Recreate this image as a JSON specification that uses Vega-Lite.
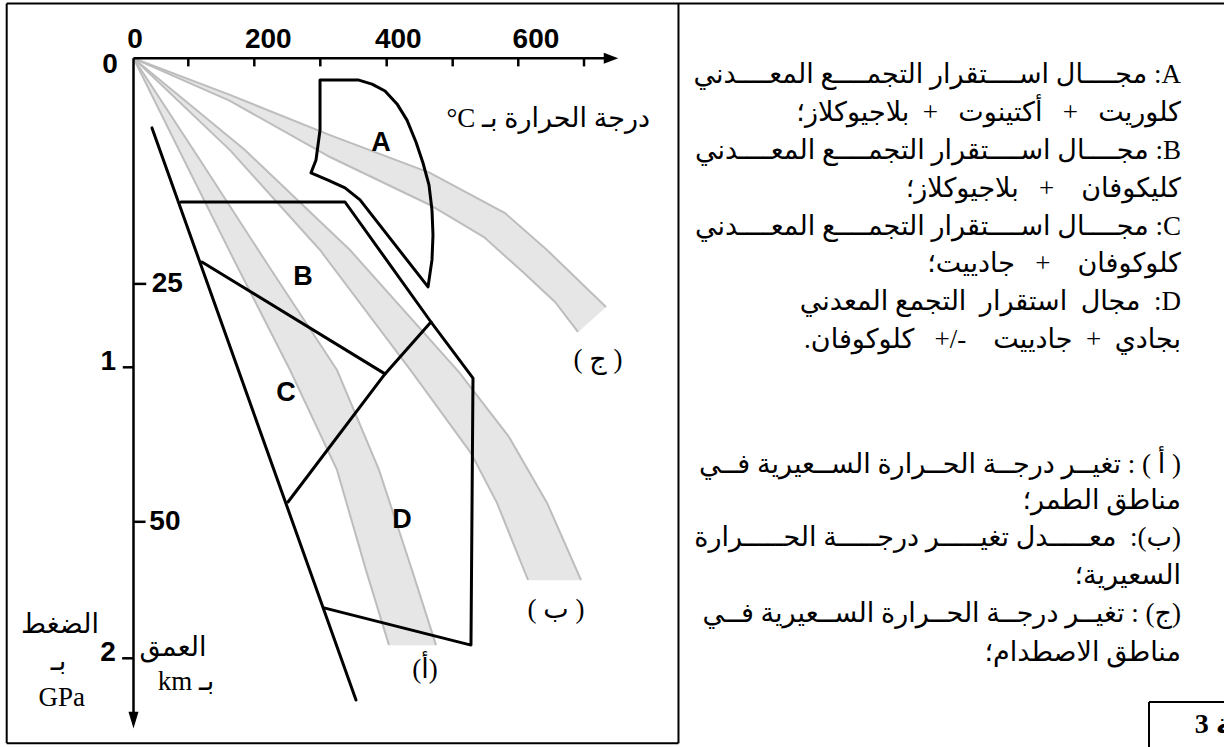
{
  "$schema": "https://vega.github.io/schema/vega-lite/v6.json",
  "width": 1224,
  "height": 747,
  "padding": 0,
  "autosize": {"type": "none"},
  "background": "white",
  "config": {"view": {"stroke": null}},
  "datasets": {
    "bands": [
      {"band": "j", "side": "u", "seq": 0, "t": 0, "p": 0},
      {"band": "j", "side": "u", "seq": 1, "t": 144.0, "p": 0.122},
      {"band": "j", "side": "u", "seq": 2, "t": 293.3, "p": 0.256},
      {"band": "j", "side": "u", "seq": 3, "t": 442.5, "p": 0.382},
      {"band": "j", "side": "u", "seq": 4, "t": 554.5, "p": 0.516},
      {"band": "j", "side": "u", "seq": 5, "t": 617.2, "p": 0.639},
      {"band": "j", "side": "u", "seq": 6, "t": 705.2, "p": 0.829},
      {"band": "j", "side": "l", "seq": 93, "t": 663.4, "p": 0.912},
      {"band": "j", "side": "l", "seq": 94, "t": 629.1, "p": 0.812},
      {"band": "j", "side": "l", "seq": 95, "t": 582.8, "p": 0.716},
      {"band": "j", "side": "l", "seq": 96, "t": 523.1, "p": 0.596},
      {"band": "j", "side": "l", "seq": 97, "t": 442.5, "p": 0.489},
      {"band": "j", "side": "l", "seq": 98, "t": 293.3, "p": 0.329},
      {"band": "j", "side": "l", "seq": 99, "t": 144.0, "p": 0.142},
      {"band": "j", "side": "l", "seq": 100, "t": 0, "p": 0},
      {"band": "b", "side": "u", "seq": 0, "t": 0, "p": 0},
      {"band": "b", "side": "u", "seq": 1, "t": 144.0, "p": 0.306},
      {"band": "b", "side": "u", "seq": 2, "t": 278.4, "p": 0.639},
      {"band": "b", "side": "u", "seq": 3, "t": 415.7, "p": 1.046},
      {"band": "b", "side": "u", "seq": 4, "t": 503.7, "p": 1.316},
      {"band": "b", "side": "u", "seq": 5, "t": 542.5, "p": 1.482},
      {"band": "b", "side": "u", "seq": 6, "t": 588.8, "p": 1.739},
      {"band": "b", "side": "l", "seq": 94, "t": 667.9, "p": 1.739},
      {"band": "b", "side": "l", "seq": 95, "t": 617.2, "p": 1.482},
      {"band": "b", "side": "l", "seq": 96, "t": 560.4, "p": 1.262},
      {"band": "b", "side": "l", "seq": 97, "t": 485.8, "p": 1.046},
      {"band": "b", "side": "l", "seq": 98, "t": 323.1, "p": 0.639},
      {"band": "b", "side": "l", "seq": 99, "t": 166.4, "p": 0.306},
      {"band": "b", "side": "l", "seq": 100, "t": 0, "p": 0},
      {"band": "a", "side": "u", "seq": 0, "t": 0, "p": 0},
      {"band": "a", "side": "u", "seq": 1, "t": 75.4, "p": 0.339},
      {"band": "a", "side": "u", "seq": 2, "t": 151.5, "p": 0.679},
      {"band": "a", "side": "u", "seq": 3, "t": 233.6, "p": 1.039},
      {"band": "a", "side": "u", "seq": 4, "t": 303.7, "p": 1.372},
      {"band": "a", "side": "u", "seq": 5, "t": 347.0, "p": 1.706},
      {"band": "a", "side": "u", "seq": 6, "t": 381.3, "p": 1.956},
      {"band": "a", "side": "l", "seq": 94, "t": 451.5, "p": 1.956},
      {"band": "a", "side": "l", "seq": 95, "t": 415.7, "p": 1.706},
      {"band": "a", "side": "l", "seq": 96, "t": 366.4, "p": 1.372},
      {"band": "a", "side": "l", "seq": 97, "t": 303.7, "p": 1.039},
      {"band": "a", "side": "l", "seq": 98, "t": 200.7, "p": 0.689},
      {"band": "a", "side": "l", "seq": 99, "t": 99.3, "p": 0.339},
      {"band": "a", "side": "l", "seq": 100, "t": 0, "p": 0}
    ],
    "lines": [
      {"id": "L", "seq": 0, "t": 27.6, "p": 0.232},
      {"id": "L", "seq": 1, "t": 332.1, "p": 2.139},
      {"id": "B", "seq": 0, "t": 70.9, "p": 0.479},
      {"id": "B", "seq": 1, "t": 315.7, "p": 0.479},
      {"id": "B", "seq": 2, "t": 444.0, "p": 0.879},
      {"id": "B", "seq": 3, "t": 506.7, "p": 1.066},
      {"id": "B", "seq": 4, "t": 503.7, "p": 1.956},
      {"id": "B", "seq": 5, "t": 284.3, "p": 1.832},
      {"id": "BC", "seq": 0, "t": 102.2, "p": 0.679},
      {"id": "BC", "seq": 1, "t": 375.4, "p": 1.052},
      {"id": "BC", "seq": 2, "t": 444.0, "p": 0.879},
      {"id": "CD", "seq": 0, "t": 375.4, "p": 1.052},
      {"id": "CD", "seq": 1, "t": 230.6, "p": 1.479},
      {"id": "A", "seq": 0, "t": 278.4, "p": 0.072},
      {"id": "A", "seq": 1, "t": 335.1, "p": 0.072},
      {"id": "A", "seq": 2, "t": 356.0, "p": 0.086},
      {"id": "A", "seq": 3, "t": 375.4, "p": 0.109},
      {"id": "A", "seq": 4, "t": 393.3, "p": 0.152},
      {"id": "A", "seq": 5, "t": 408.2, "p": 0.206},
      {"id": "A", "seq": 6, "t": 421.6, "p": 0.279},
      {"id": "A", "seq": 7, "t": 432.1, "p": 0.349},
      {"id": "A", "seq": 8, "t": 441.0, "p": 0.422},
      {"id": "A", "seq": 9, "t": 445.5, "p": 0.506},
      {"id": "A", "seq": 10, "t": 447.0, "p": 0.589},
      {"id": "A", "seq": 11, "t": 445.5, "p": 0.672},
      {"id": "A", "seq": 12, "t": 439.6, "p": 0.762},
      {"id": "A", "seq": 13, "t": 338.1, "p": 0.472},
      {"id": "A", "seq": 14, "t": 315.7, "p": 0.432},
      {"id": "A", "seq": 15, "t": 290.3, "p": 0.406},
      {"id": "A", "seq": 16, "t": 264.9, "p": 0.382},
      {"id": "A", "seq": 17, "t": 272.4, "p": 0.339},
      {"id": "A", "seq": 18, "t": 278.4, "p": 0.239},
      {"id": "A", "seq": 19, "t": 278.4, "p": 0.072}
    ],
    "frame": [
      {"t": -189.25, "p": -0.1827, "t2": 1627.6, "p2": -0.1827},
      {"t": -189.25, "p": -0.1827, "t2": -189.25, "p2": 2.2833},
      {"t": -189.25, "p": 2.2833, "t2": 813.4, "p2": 2.2833},
      {"t": 813.4, "p": -0.1827, "t2": 813.4, "p2": 2.2833},
      {"t": 1515.7, "p": 2.1457, "t2": 1515.7, "p2": 2.2957},
      {"t": 1515.7, "p": 2.1457, "t2": 1627.6, "p2": 2.1457}
    ],
    "axes": [
      {"t": 0, "p": 0, "t2": 711, "p2": 0},
      {"t": 0, "p": 0, "t2": 0, "p2": 2.2},
      {"t": 81.8, "p": 0, "t2": 81.8, "p2": 0.027},
      {"t": 180.3, "p": 0, "t2": 180.3, "p2": 0.027},
      {"t": 278.8, "p": 0, "t2": 278.8, "p2": 0.027},
      {"t": 377.9, "p": 0, "t2": 377.9, "p2": 0.027},
      {"t": 476.4, "p": 0, "t2": 476.4, "p2": 0.027},
      {"t": 574.3, "p": 0, "t2": 574.3, "p2": 0.027},
      {"t": 672.4, "p": 0, "t2": 672.4, "p2": 0.027},
      {"t": -16, "p": 1.03, "t2": 0, "p2": 1.03},
      {"t": -17, "p": 2.0, "t2": 0, "p2": 2.0},
      {"t": 0, "p": 0.752, "t2": 19, "p2": 0.752},
      {"t": 0, "p": 1.545, "t2": 18, "p2": 1.545}
    ],
    "arrows": [
      {"dir": "right", "t": 712.7, "p": 0},
      {"dir": "down", "t": 0, "p": 2.2057}
    ],
    "texts": [
      {"kind": "tick", "txt": "0", "t": 2.2, "p": -0.061},
      {"kind": "tick", "txt": "200", "t": 201.2, "p": -0.061},
      {"kind": "tick", "txt": "400", "t": 395.2, "p": -0.061},
      {"kind": "tick", "txt": "600", "t": 600.7, "p": -0.061},
      {"kind": "tick", "txt": "0", "t": -35, "p": 0.022},
      {"kind": "tick", "txt": "1", "t": -37.6, "p": 1.011},
      {"kind": "tick", "txt": "2", "t": -38, "p": 1.982},
      {"kind": "depth", "txt": "25", "t": 27.2, "p": 0.752},
      {"kind": "depth", "txt": "50", "t": 23.6, "p": 1.545},
      {"kind": "region", "txt": "A", "t": 369.4, "p": 0.282},
      {"kind": "region", "txt": "B", "t": 253.0, "p": 0.729},
      {"kind": "region", "txt": "C", "t": 227.6, "p": 1.116},
      {"kind": "region", "txt": "D", "t": 400.7, "p": 1.539},
      {"kind": "label", "txt": "\u202b( ج )\u202c", "t": 693.3, "p": 1.006},
      {"kind": "label", "txt": "\u202b( ب )\u202c", "t": 630.6, "p": 1.839},
      {"kind": "label", "txt": "\u202b(أ)\u202c", "t": 435.1, "p": 2.039},
      {"kind": "label", "txt": "\u202bالضغط\u202c", "t": -109.7, "p": 1.889},
      {"kind": "label", "txt": "\u202bبـ\u202c", "t": -112, "p": 2.012},
      {"kind": "label", "txt": "GPa", "t": -107, "p": 2.132},
      {"kind": "label", "txt": "\u202bالعمق\u202c", "t": 58.9, "p": 1.966},
      {"kind": "label", "txt": "\u202bبـ km\u202c", "t": 78.4, "p": 2.079},
      {"kind": "unit", "txt": "\u202bدرجة الحرارة بـ C°\u202c", "t": 770.9, "p": 0.202},
      {"kind": "body", "txt": "\u202bA: مجــــال اســــتقرار التجمــــع المعــــدني\u202c", "t": 1563.4, "p": 0.0557},
      {"kind": "body", "txt": "\u202bكلوريت\u00a0\u00a0 +\u00a0\u00a0 أكتينوت\u00a0\u00a0 +\u00a0 بلاجيوكلاز؛\u202c", "t": 1563.4, "p": 0.182},
      {"kind": "body", "txt": "\u202bB: مجــــال اســــتقرار التجمــــع المعــــدني\u202c", "t": 1563.4, "p": 0.308},
      {"kind": "body", "txt": "\u202bكليكوفان\u00a0\u00a0\u00a0 +\u00a0\u00a0 بلاجيوكلاز؛\u202c", "t": 1563.4, "p": 0.435},
      {"kind": "body", "txt": "\u202bC: مجــــال اســــتقرار التجمــــع المعــــدني\u202c", "t": 1563.4, "p": 0.561},
      {"kind": "body", "txt": "\u202bكلوكوفان\u00a0\u00a0\u00a0 +\u00a0\u00a0 جادييت؛\u202c", "t": 1563.4, "p": 0.687},
      {"kind": "body", "txt": "\u202bD:\u00a0 مجال\u00a0 استقرار\u00a0 التجمع المعدني\u202c", "t": 1563.4, "p": 0.814},
      {"kind": "body", "txt": "\u202bبجادي\u00a0 +\u00a0 جادييت\u00a0\u00a0\u00a0 -/+\u00a0\u00a0 كلوكوفان.\u202c", "t": 1563.4, "p": 0.94},
      {"kind": "body", "txt": "\u202b( أ ) : تغيــر درجــة الحــرارة الســعيرية فــي\u202c", "t": 1563.4, "p": 1.356},
      {"kind": "body", "txt": "\u202bمناطق الطمر؛\u202c", "t": 1563.4, "p": 1.476},
      {"kind": "body", "txt": "\u202b(ب):\u00a0 معـــــدل تغيـــــر درجـــــة الحـــــرارة\u202c", "t": 1563.4, "p": 1.599},
      {"kind": "body", "txt": "\u202bالسعيرية؛\u202c", "t": 1563.4, "p": 1.726},
      {"kind": "body", "txt": "\u202b(ج) : تغيــر درجــة الحــرارة الســعيرية فــي\u202c", "t": 1563.4, "p": 1.852},
      {"kind": "body", "txt": "\u202bمناطق الاصطدام؛\u202c", "t": 1563.4, "p": 1.982},
      {"kind": "doc", "txt": "3 الوثيقة", "t": 1583.9, "p": 2.223}
    ]
  },
  "encoding": {
    "x": {"field": "t", "type": "quantitative", "axis": null,
          "scale": {"domain": [-199.254, 1627.61], "nice": false, "zero": false}},
    "y": {"field": "p", "type": "quantitative", "axis": null,
          "scale": {"domain": [-0.19433, 2.29567], "reverse": true, "nice": false, "zero": false}}
  },
  "layer": [
    {
      "data": {"name": "bands"},
      "mark": {"type": "line", "fill": "#e6e6e6", "stroke": "#e6e6e6", "strokeWidth": 0.5},
      "encoding": {"detail": {"field": "band"}, "order": {"field": "seq", "type": "quantitative"}}
    },
    {
      "data": {"name": "bands"},
      "mark": {"type": "line", "stroke": "#bdbdbd", "strokeWidth": 2},
      "encoding": {"detail": [{"field": "band"}, {"field": "side"}], "order": {"field": "seq", "type": "quantitative"}}
    },
    {
      "data": {"name": "lines"},
      "mark": {"type": "line", "stroke": "black", "strokeWidth": 3, "strokeJoin": "round", "strokeCap": "round"},
      "encoding": {"detail": {"field": "id"}, "order": {"field": "seq", "type": "quantitative"}}
    },
    {
      "data": {"name": "frame"},
      "mark": {"type": "rule", "color": "black", "strokeWidth": 2},
      "encoding": {"x2": {"field": "t2"}, "y2": {"field": "p2"}}
    },
    {
      "data": {"name": "axes"},
      "mark": {"type": "rule", "color": "black", "strokeWidth": 2.5},
      "encoding": {"x2": {"field": "t2"}, "y2": {"field": "p2"}}
    },
    {
      "data": {"name": "arrows"},
      "transform": [{"filter": "datum.dir === 'right'"}],
      "mark": {"type": "point", "shape": "M-1,-0.75L1,0L-1,0.75Z", "size": 210, "filled": true, "color": "black", "opacity": 1}
    },
    {
      "data": {"name": "arrows"},
      "transform": [{"filter": "datum.dir === 'down'"}],
      "mark": {"type": "point", "shape": "M-0.6,-1L0.6,-1L0,1Z", "size": 280, "filled": true, "color": "black", "opacity": 1}
    },
    {
      "data": {"name": "texts"},
      "transform": [{"filter": "datum.kind === 'tick'"}],
      "mark": {"type": "text", "font": "Liberation Sans", "fontWeight": "bold", "fontSize": 28, "align": "center", "baseline": "middle", "color": "black"},
      "encoding": {"text": {"field": "txt"}}
    },
    {
      "data": {"name": "texts"},
      "transform": [{"filter": "datum.kind === 'region'"}],
      "mark": {"type": "text", "font": "Liberation Sans", "fontWeight": "bold", "fontSize": 27, "align": "center", "baseline": "middle", "color": "black"},
      "encoding": {"text": {"field": "txt"}}
    },
    {
      "data": {"name": "texts"},
      "transform": [{"filter": "datum.kind === 'depth'"}],
      "mark": {"type": "text", "font": "Liberation Sans", "fontWeight": "bold", "fontSize": 28, "align": "left", "baseline": "middle", "color": "black"},
      "encoding": {"text": {"field": "txt"}}
    },
    {
      "data": {"name": "texts"},
      "transform": [{"filter": "datum.kind === 'label'"}],
      "mark": {"type": "text", "font": "Liberation Serif, DejaVu Sans", "fontSize": 27, "align": "center", "baseline": "middle", "color": "black"},
      "encoding": {"text": {"field": "txt"}}
    },
    {
      "data": {"name": "texts"},
      "transform": [{"filter": "datum.kind === 'unit'"}],
      "mark": {"type": "text", "font": "Liberation Serif, DejaVu Sans", "fontSize": 27, "align": "right", "baseline": "middle", "color": "black"},
      "encoding": {"text": {"field": "txt"}}
    },
    {
      "data": {"name": "texts"},
      "transform": [{"filter": "datum.kind === 'body'"}],
      "mark": {"type": "text", "font": "Liberation Serif, DejaVu Sans", "fontSize": 27, "align": "right", "baseline": "middle", "color": "black"},
      "encoding": {"text": {"field": "txt"}}
    },
    {
      "data": {"name": "texts"},
      "transform": [{"filter": "datum.kind === 'doc'"}],
      "mark": {"type": "text", "font": "Liberation Serif, DejaVu Sans", "fontWeight": "bold", "fontSize": 28, "align": "left", "baseline": "middle", "color": "black"},
      "encoding": {"text": {"field": "txt"}}
    }
  ]
}
